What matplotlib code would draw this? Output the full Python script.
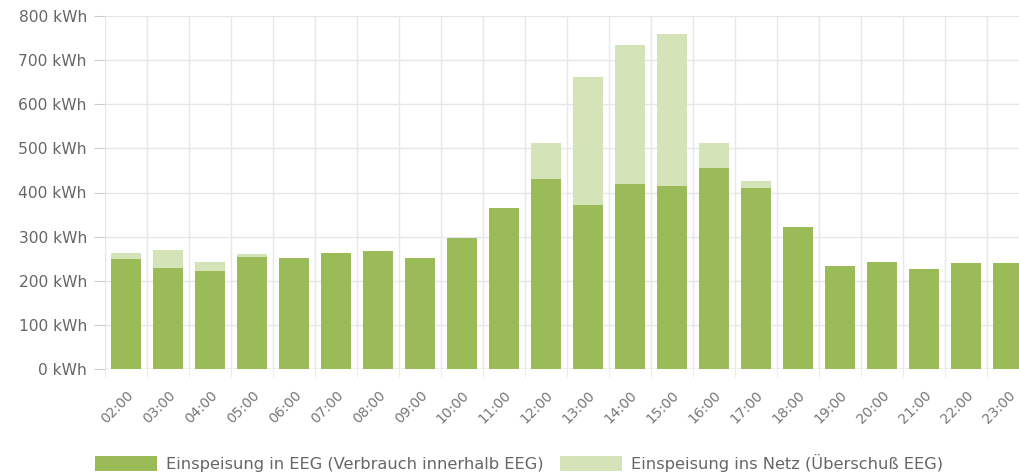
import matplotlib
matplotlib.use('Agg')
import matplotlib.pyplot as plt
import numpy as np

hours = ['02:00', '03:00', '04:00', '05:00', '06:00', '07:00', '08:00', '09:00',
         '10:00', '11:00', '12:00', '13:00', '14:00', '15:00', '16:00', '17:00',
         '18:00', '19:00', '20:00', '21:00', '22:00', '23:00']
# Einspeisung in EEG (Verbrauch innerhalb EEG)
eeg = [249, 228, 221, 253, 251, 264, 267, 252, 296, 366, 431, 372,
       419, 414, 455, 410, 322, 233, 243, 227, 241, 240]
# Einspeisung ins Netz (Ueberschuss EEG)
netz = [15, 41, 21, 8, 0, 0, 0, 0, 0, 0, 81, 290,
        315, 346, 57, 17, 0, 0, 0, 0, 0, 0]
yticks = [0, 100, 200, 300, 400, 500, 600, 700, 800]

plt.rcParams['font.family'] = ['DejaVu Sans']

fig = plt.figure(figsize=(10.2, 4.76), dpi=100)
ax = fig.add_axes([105 / 1020, 1 - 369 / 476, 924 / 1020, 353 / 476])

x = np.arange(len(hours))
dark = '#9bbb59'
light = '#d5e3b9'
b1 = ax.bar(x, eeg, width=0.71, color=dark, zorder=3,
            label='Einspeisung in EEG (Verbrauch innerhalb EEG)')
b2 = ax.bar(x, netz, width=0.71, bottom=eeg, color=light, zorder=3,
            label='Einspeisung ins Netz (Überschuß EEG)')

ax.set_xlim(-0.5, len(hours) - 0.5)
ax.set_ylim(0, 800)
ax.set_yticks(yticks)
ax.set_yticklabels(['%d kWh' % v for v in yticks])
ax.set_xticks(x)
ax.set_xticklabels(hours, rotation=45, ha='right', rotation_mode='anchor')
ax.set_xticks(np.arange(len(hours) + 1) - 0.5, minor=True)

for s in ax.spines.values():
    s.set_visible(False)
ax.axhline(0, color='#cccccc', lw=1, zorder=2)
ax.grid(True, axis='y', color='#e6e6ee', lw=1, zorder=0)
ax.grid(True, axis='x', which='minor', color='#e6e6ee', lw=1, zorder=0)
ax.tick_params(axis='y', length=8, color='#cccccc', labelsize=11.2,
               labelcolor='#666666', pad=5)
ax.tick_params(axis='x', which='major', length=0, labelsize=10,
               labelcolor='#777777', pad=14)
ax.tick_params(axis='x', which='minor', length=6, color='#e6e6ee')

fig.legend(handles=[b1, b2], loc='center', bbox_to_anchor=(519 / 1020, 1 - 463 / 476),
           ncol=2, frameon=False, fontsize=11.7, handlelength=3.8, handleheight=1.1,
           columnspacing=1.0, handletextpad=0.55, labelcolor='#666666')

fig.savefig('out.png', dpi=100)
